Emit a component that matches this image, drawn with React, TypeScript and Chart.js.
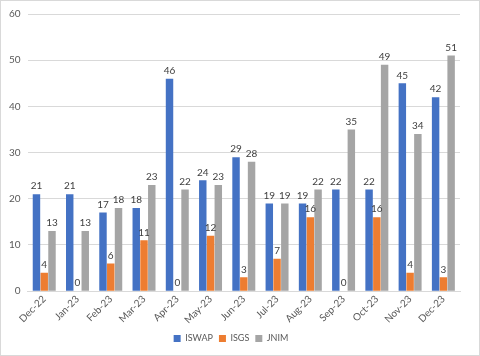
import React, { useEffect, useRef } from "react";
import { Chart, registerables } from "chart.js";

Chart.register(...registerables);

const categories = ["Dec-22","Jan-23","Feb-23","Mar-23","Apr-23","May-23","Jun-23","Jul-23","Aug-23","Sep-23","Oct-23","Nov-23","Dec-23"];
const iswap = [21,21,17,18,46,24,29,19,19,22,22,45,42];
const isgs = [4,0,6,11,0,12,3,7,16,0,16,4,3];
const jnim = [13,13,18,23,22,23,28,19,22,35,49,34,51];
const yTicks = [0,10,20,30,40,50,60];

const FONT = "Lato, 'Liberation Sans', sans-serif";

const labelPlugin = {
  id: "valueLabels",
  afterDatasetsDraw(chart: any) {
    const ctx = chart.ctx;
    ctx.save();
    ctx.font = `10px ${FONT}`;
    ctx.fillStyle = "#404040";
    ctx.textAlign = "center";
    ctx.textBaseline = "bottom";
    chart.data.datasets.forEach((ds: any, i: number) => {
      const meta = chart.getDatasetMeta(i);
      meta.data.forEach((bar: any, j: number) => {
        ctx.fillText(String(ds.data[j]), bar.x, bar.y - 3);
      });
    });
    ctx.restore();
  },
};

export default function App() {
  const ref = useRef<HTMLCanvasElement>(null);
  useEffect(() => {
    document.body.style.margin = "0";
    const chart = new Chart(ref.current!, {
      type: "bar",
      data: {
        labels: categories,
        datasets: [
          { label: "ISWAP", data: iswap, backgroundColor: "#4472C4" },
          { label: "ISGS", data: isgs, backgroundColor: "#ED7D31" },
          { label: "JNIM", data: jnim, backgroundColor: "#A5A5A5" },
        ],
      },
      options: {
        animation: false,
        responsive: false,
        maintainAspectRatio: false,
        layout: { padding: { top: 11, right: 19, left: 1, bottom: 2 } },
        datasets: { bar: { categoryPercentage: 0.7, barPercentage: 0.96 } },
        scales: {
          x: {
            grid: { display: false, drawTicks: false },
            border: { color: "#d9d9d9" },
            ticks: {
              font: { family: FONT, size: 10 },
              color: "#595959",
              maxRotation: 45,
              minRotation: 45,
              padding: 2,
            },
          },
          y: {
            min: 0,
            max: 60,
            afterBuildTicks: (axis: any) => {
              axis.ticks = yTicks.map((v) => ({ value: v }));
            },
            grid: { color: "#d9d9d9", drawTicks: false },
            border: { display: false },
            ticks: {
              font: { family: FONT, size: 10 },
              color: "#595959",
              padding: 7,
            },
          },
        },
        plugins: {
          legend: {
            position: "bottom",
            labels: {
              boxWidth: 7,
              boxHeight: 7,
              font: { family: FONT, size: 9 },
              color: "#595959",
              padding: 6,
            },
          },
          tooltip: { enabled: false },
        },
      },
      plugins: [labelPlugin],
    });
    return () => chart.destroy();
  }, []);
  return (
    <div style={{ width: 478, height: 354, border: "1px solid #d9d9d9", background: "#fff" }}>
      <canvas ref={ref} width={478} height={354} />
    </div>
  );
}
